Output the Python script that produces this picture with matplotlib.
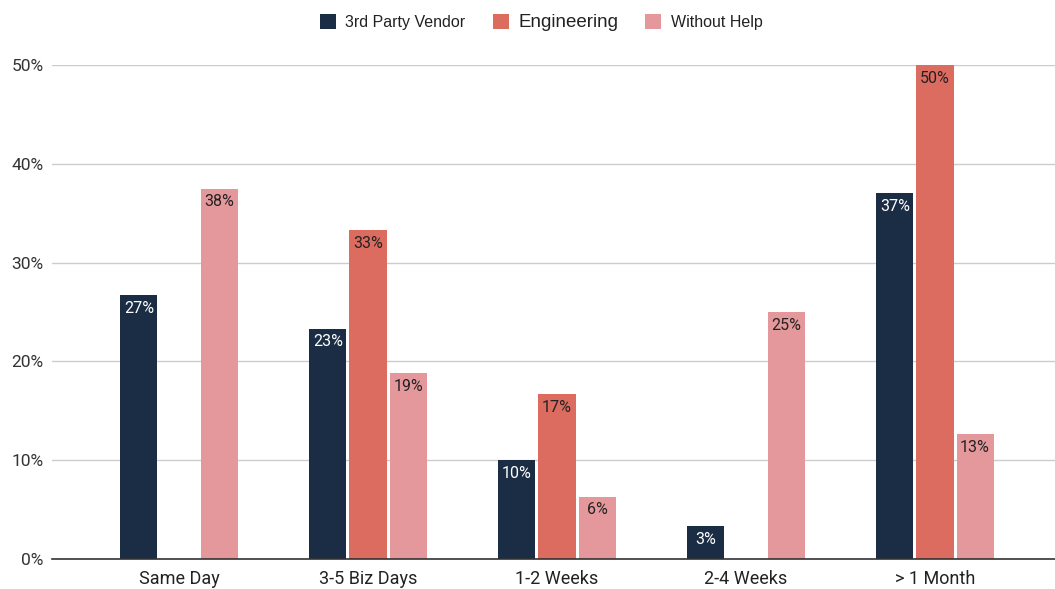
import matplotlib.pyplot as plt
from matplotlib.patches import Patch
import numpy as np

categories = ['Same Day', '3-5 Biz Days', '1-2 Weeks', '2-4 Weeks', '> 1 Month']
series_names = ['3rd Party Vendor', 'Engineering', 'Without Help']
vendor = [26.7, 23.3, 10.0, 3.3, 37.0]
engineering = [0, 33.3, 16.7, 0, 50.0]
without_help = [37.5, 18.8, 6.3, 25.0, 12.6]
colors = ['#1b2d45', '#dc6b60', '#e4989c']
label_colors = ['white', '#222222', '#222222']

plt.rcParams['font.family'] = ['Roboto', 'DejaVu Sans']

fig = plt.figure(figsize=(10.55, 5.89), dpi=100)
ax = fig.add_axes([0.0493, 0.051, 0.9507, 0.8386])

x = np.arange(len(categories))
width = 0.196
step = 0.212
for i, (vals, c, lc) in enumerate(zip([vendor, engineering, without_help], colors, label_colors)):
    pos = x + (i - 1) * step
    ax.bar(pos, vals, width=width, color=c, zorder=3)
    for p, v in zip(pos, vals):
        if v > 0:
            ax.annotate(f'{v:.0f}%', (p, v), xytext=(0, -4), textcoords='offset points',
                        ha='center', va='top', fontsize=11.5, color=lc, zorder=4)

ax.set_xlim(-0.672, len(categories) - 1 + 0.635)
ax.set_ylim(0, 50)
ax.set_yticks(range(0, 51, 10))
ax.set_yticklabels([f'{t}%' for t in range(0, 51, 10)], fontsize=12.5, color='#333333')
ax.set_xticks(x)
ax.set_xticklabels(categories, fontsize=13, color='#222222')
ax.tick_params(axis='both', length=0)
ax.tick_params(axis='x', pad=8)
ax.tick_params(axis='y', pad=6)
ax.grid(axis='y', color='#cccccc', linewidth=1, zorder=0)
for s in ['top', 'right', 'left']:
    ax.spines[s].set_visible(False)
ax.spines['bottom'].set_color('#333333')
ax.spines['bottom'].set_linewidth(1.2)
ax.spines['bottom'].set_zorder(5)

handles = [Patch(facecolor=c, label=n) for c, n in zip(colors, series_names)]
leg = fig.legend(handles=handles, loc='center', bbox_to_anchor=(0.513, 0.962), ncol=3,
                 frameon=False, fontsize=11.5, handlelength=1.0, handleheight=1.0,
                 handletextpad=0.6, columnspacing=1.7)
for t in leg.get_texts():
    t.set_family(['Liberation Sans', 'DejaVu Sans'])
    t.set_color('#222222')
leg.get_texts()[1].set_fontsize(13.5)

fig.savefig('out.png', dpi=100)
